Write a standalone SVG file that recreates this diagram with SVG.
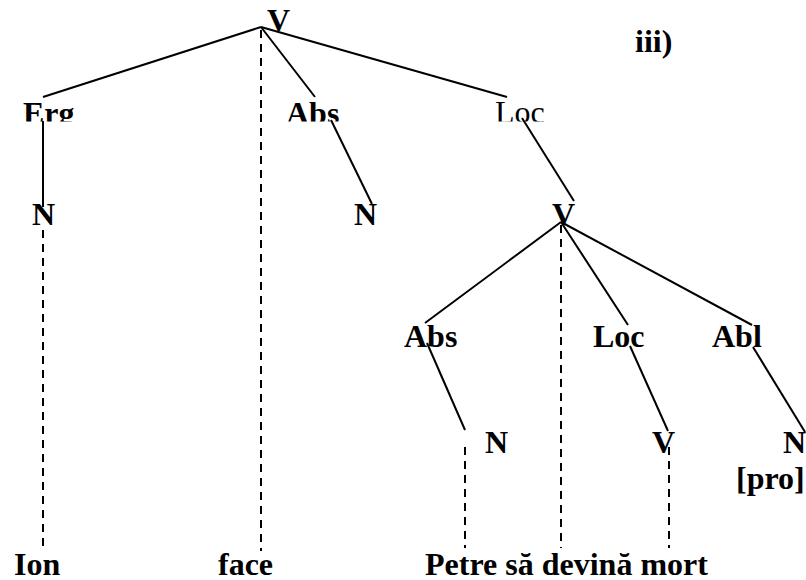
<svg xmlns="http://www.w3.org/2000/svg" width="806" height="580" viewBox="0 0 806 580">
<style>
text{font-family:"Liberation Serif","Times New Roman",serif;font-size:32px;font-weight:bold;fill:#000}
.reg{font-weight:normal}
.edge{stroke:#000;stroke-width:2;fill:none}
.dash{stroke:#000;stroke-width:2;fill:none;stroke-dasharray:8 6}
</style>
<defs>
<clipPath id="topclip"><rect x="0" y="0" width="806" height="121.5"/></clipPath>
</defs>
<rect width="806" height="580" fill="#fff"/>
<g id="label-iii"><text x="635" y="52">iii)</text></g>
<g id="n-V1"><text x="267" y="31">V</text></g>
<g clip-path="url(#topclip)">
<g id="n-Erg"><text x="23" y="124">Erg</text></g>
<g id="n-Abs1"><text x="286" y="124">Abs</text></g>
<g id="n-Loc1"><text class="reg" x="495" y="123">Loc</text></g>
</g>
<g id="n-N1"><text x="32" y="225">N</text></g>
<g id="n-N2"><text x="354" y="225">N</text></g>
<g id="n-V2"><text x="552" y="225">V</text></g>
<g id="n-Abs2"><text x="404" y="347">Abs</text></g>
<g id="n-Loc2"><text x="593" y="347">Loc</text></g>
<g id="n-Abl"><text x="712" y="347">Abl</text></g>
<g id="n-N3"><text x="485" y="453">N</text></g>
<g id="n-V3"><text x="652" y="453">V</text></g>
<g id="n-N4"><text x="783" y="453">N</text><text x="736" y="489">[pro]</text></g>
<g id="w-Ion"><text x="14" y="575">Ion</text></g>
<g id="w-face"><text x="218" y="575">face</text></g>
<g id="w-Petre"><text x="425" y="575">Petre să devină mort</text></g>
<g id="connectors">
<line class="edge" x1="261" y1="27" x2="43" y2="97"/>
<line class="edge" x1="261" y1="27" x2="315" y2="97"/>
<line class="edge" x1="261" y1="27" x2="507" y2="97"/>
<line class="edge" x1="43" y1="121" x2="43" y2="207"/>
<line class="edge" x1="331" y1="120" x2="372" y2="204"/>
<line class="edge" x1="522" y1="118" x2="574" y2="201"/>
<line class="edge" x1="561" y1="222" x2="425" y2="323"/>
<line class="edge" x1="561" y1="222" x2="628" y2="325"/>
<line class="edge" x1="561" y1="222" x2="752" y2="325"/>
<line class="edge" x1="427" y1="343" x2="465" y2="430"/>
<line class="edge" x1="630" y1="346" x2="668" y2="431"/>
<line class="edge" x1="753" y1="347" x2="805" y2="432"/>
<line class="dash" x1="261" y1="30" x2="261" y2="551"/>
<line class="dash" x1="43" y1="230" x2="43" y2="548"/>
<line class="dash" x1="561" y1="225" x2="561" y2="548"/>
<line class="dash" x1="465" y1="447" x2="465" y2="548"/>
<line class="dash" x1="669" y1="447" x2="669" y2="548"/>
</g>
</svg>
